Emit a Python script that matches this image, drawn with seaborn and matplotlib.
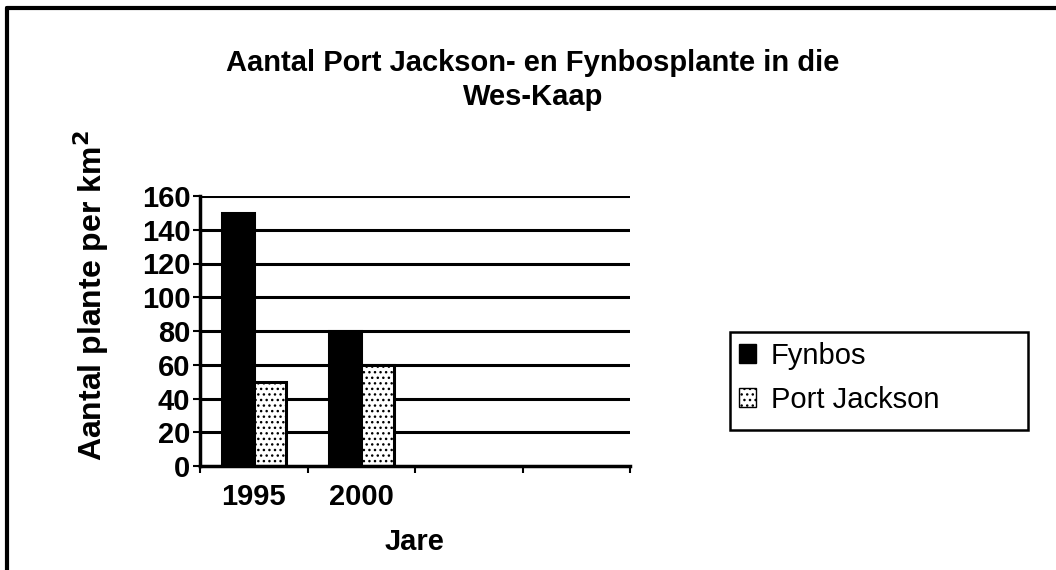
"""Bar chart of Port Jackson and fynbos plant counts in the Western Cape."""

from __future__ import annotations

import matplotlib

matplotlib.use("Agg")  # File output only.

import matplotlib.pyplot as plt
import numpy as np
import pandas as pd
import seaborn as sns
from matplotlib.lines import Line2D
from matplotlib.patches import Patch, Rectangle

YEARS = ["1995", "2000"]
SLOTS = ["1995", "2000", "slot3", "slot4"]  # two empty category slots
FYNBOS = [150, 80]
PORT_JACKSON = [50, 60]
SERIES = ["Fynbos", "Port Jackson"]
Y_TICKS = [0, 20, 40, 60, 80, 100, 120, 140, 160]

W, H = 1056, 570
FS = 21

sns.set_theme(style="white")
plt.rcParams["font.family"] = ["Liberation Sans", "DejaVu Sans"]
plt.rcParams["text.color"] = "black"
plt.rcParams["axes.labelcolor"] = "black"
plt.rcParams["xtick.color"] = "black"
plt.rcParams["ytick.color"] = "black"
plt.rcParams["hatch.linewidth"] = 1.0
plt.rcParams["hatch.color"] = "#555555"

frame = pd.DataFrame(
    {
        "year": YEARS * 2,
        "series": [SERIES[0]] * len(YEARS) + [SERIES[1]] * len(YEARS),
        "value": FYNBOS + PORT_JACKSON,
    }
)

fig = plt.figure(figsize=(W / 100, H / 100), dpi=100)
ax = fig.add_axes([200 / W, 1 - 466 / H, 430 / W, 270 / H])

sns.barplot(
    data=frame,
    x="year",
    y="value",
    hue="series",
    order=SLOTS,
    hue_order=SERIES,
    palette=["black", "white"],
    width=0.6,
    gap=0,
    edgecolor="black",
    linewidth=2.2,
    saturation=1,
    legend=False,
    ax=ax,
)
# dotted fill for Port Jackson bars
for patch in ax.patches[len(YEARS):]:
    patch.set_hatch("...")

ax.set_ylim(0, 160)
ax.set_xlim(-0.5, len(SLOTS) - 0.5)
ax.set_yticks(Y_TICKS)
ax.set_yticklabels([str(t) for t in Y_TICKS], fontsize=FS, fontweight="bold")
for t in Y_TICKS[1:]:
    ax.axhline(t, color="black", linewidth=2.2, zorder=0)

# category boundaries carry tick marks; labels sit at centres
ax.set_xticks(np.arange(-0.5, len(SLOTS), 1))
ax.set_xticklabels([])
ax.set_xticks(range(len(YEARS)), minor=True)
ax.set_xticklabels(YEARS, minor=True, fontsize=FS, fontweight="bold")
ax.tick_params(axis="x", which="minor", length=0, pad=12)
ax.tick_params(axis="both", which="major", direction="out", length=5, width=1.5,
               color="black", bottom=True, left=True, pad=2)

for side in ["top", "right"]:
    ax.spines[side].set_visible(False)
for side in ["left", "bottom"]:
    ax.spines[side].set_color("black")
    ax.spines[side].set_linewidth(2.5)

ax.set_xlabel("Jare", fontsize=FS, fontweight="bold", va="center")
ax.xaxis.set_label_coords(0.5, (466 - 542) / 270)
ax.set_ylabel("Aantal plante per km$^\\mathbf{2}$", fontsize=23, fontweight="bold",
              va="center")
ax.yaxis.set_label_coords((91 - 200) / 430, (466 - 296) / 270)

fig.text(533 / W, 1 - 80 / H,
         "Aantal Port Jackson- en Fynbosplante in die\nWes-Kaap",
         ha="center", va="center", fontsize=FS, fontweight="bold", linespacing=1.25)

handles = [
    Patch(facecolor="black", edgecolor="black"),
    Patch(facecolor="white", edgecolor="black", hatch="..."),
]
fig.legend(
    handles,
    SERIES,
    loc="center left",
    bbox_to_anchor=(733 / W, 1 - 378 / H),
    fontsize=FS,
    handlelength=0.6,
    handleheight=0.6,
    handletextpad=0.5,
    labelspacing=0.55,
    borderpad=0.2,
    frameon=False,
    borderaxespad=0,
)
fig.add_artist(Rectangle((730 / W, 1 - 430 / H), 298 / W, 98 / H,
                         transform=fig.transFigure, fill=False,
                         edgecolor="black", linewidth=1.8))

# outer border: left and top edges only, as in the reference crop
x0, y1 = 7 / W, 1 - 8 / H
for xs, ys in [([x0, x0], [0, y1]), ([x0, 1], [y1, y1])]:
    fig.add_artist(Line2D(xs, ys, color="black", linewidth=3,
                          transform=fig.transFigure))

fig.savefig("out.png", dpi=100)
